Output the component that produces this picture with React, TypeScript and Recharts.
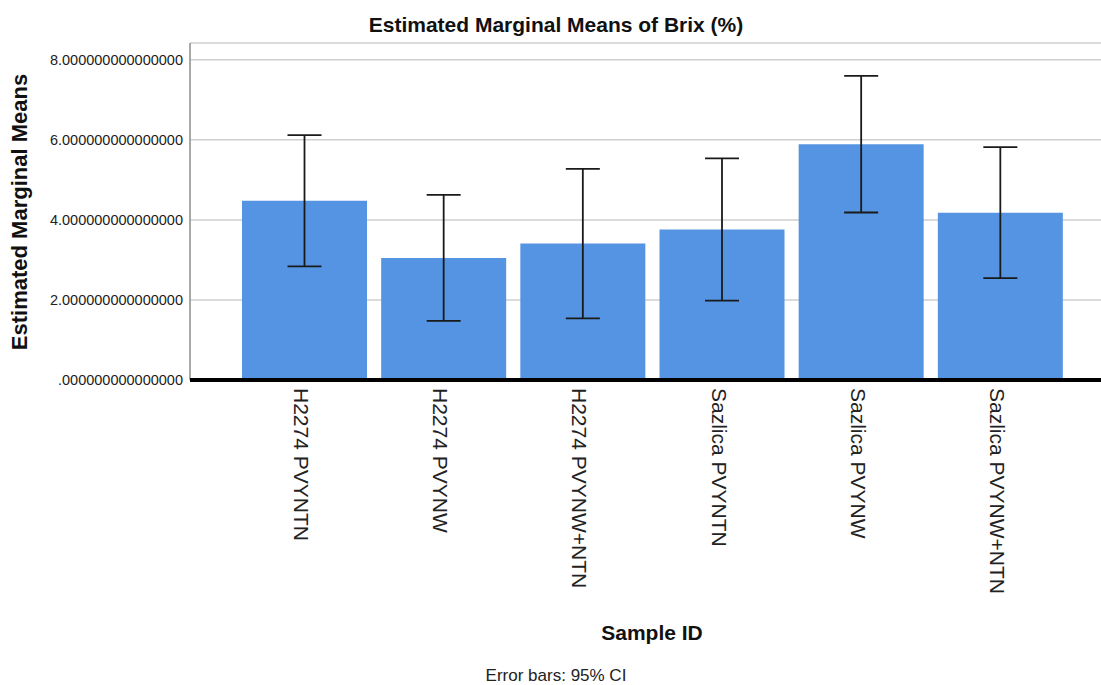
import React from 'react';
import { BarChart, Bar, XAxis, YAxis, CartesianGrid, ErrorBar } from 'recharts';

const categories = ['H2274 PVYNTN', 'H2274 PVYNW', 'H2274 PVYNW+NTN', 'Sazlica PVYNTN', 'Sazlica PVYNW', 'Sazlica PVYNW+NTN'];
const means = [4.48, 3.05, 3.41, 3.76, 5.89, 4.18];
const ciLower = [2.84, 1.475, 1.54, 1.985, 4.185, 2.545];
const ciUpper = [6.12, 4.625, 5.275, 5.535, 7.6, 5.82];
const yTicks = [0, 2, 4, 6, 8];

const data = categories.map((c, i) => ({
  name: c,
  mean: means[i],
  err: [means[i] - ciLower[i], ciUpper[i] - means[i]],
}));

const FONT = '"Liberation Sans", Arial, Helvetica, sans-serif';

const fmtY = (v: number) => (v === 0 ? '.000000000000000' : v.toFixed(15));

const XTick = (props: any) => {
  const { x, y, payload } = props;
  return (
    <text
      transform={`translate(${x - 3},${y}) rotate(90)`}
      textAnchor="start"
      dominantBaseline="central"
      fontFamily={FONT}
      fontSize={21}
      fill="#222"
    >
      {payload.value}
    </text>
  );
};

const YTick = (props: any) => {
  const { y, payload } = props;
  return (
    <text x={183} y={y} textAnchor="end" dominantBaseline="central" fontFamily={FONT} fontSize={14.5} fill="#222">
      {fmtY(payload.value)}
    </text>
  );
};

export default function App() {
  return (
    <div style={{ position: 'absolute', left: 0, top: 0, width: 1101, height: 685, background: '#fff', fontFamily: FONT, overflow: 'hidden' }}>
      <BarChart
        width={1101}
        height={685}
        data={data}
        margin={{ top: 43, right: 0, bottom: 0, left: 0 }}
        barSize={125}
      >
        <CartesianGrid horizontal vertical={false} stroke="#cfcfcf" strokeWidth={1.5} />
        <YAxis
          width={190}
          domain={[0, 8.42]}
          ticks={yTicks}
          tick={<YTick />}
          tickLine={false}
          axisLine={{ stroke: '#8c8c8c', strokeWidth: 1.5 }}
          allowDataOverflow
        />
        <XAxis
          dataKey="name"
          height={305}
          padding={{ left: 45, right: 31 }}
          tick={<XTick />}
          tickLine={false}
          interval={0}
          axisLine={{ stroke: '#000', strokeWidth: 4 }}
        />
        <Bar dataKey="mean" fill="#5594e2" isAnimationActive={false}>
          <ErrorBar dataKey="err" width={17} stroke="#1a1a1a" strokeWidth={1.8} direction="y" isAnimationActive={false} />
        </Bar>
      </BarChart>
      <div style={{ position: 'absolute', left: 0, width: 1112, top: 12, textAlign: 'center', fontWeight: 'bold', fontSize: 21, color: '#111', lineHeight: '26px' }}>
        Estimated Marginal Means of Brix (%)
      </div>
      <div
        style={{
          position: 'absolute',
          left: 20,
          top: 212,
          transform: 'translate(-50%, -50%) rotate(-90deg)',
          whiteSpace: 'nowrap',
          fontWeight: 'bold',
          fontSize: 22,
          color: '#111',
          lineHeight: '26px',
        }}
      >
        Estimated Marginal Means
      </div>
      <div style={{ position: 'absolute', left: 552, width: 200, top: 620, textAlign: 'center', fontWeight: 'bold', fontSize: 21, color: '#111', lineHeight: '26px' }}>
        Sample ID
      </div>
      <div style={{ position: 'absolute', left: 456, width: 200, top: 666, textAlign: 'center', fontSize: 17, color: '#222', lineHeight: '19px' }}>
        Error bars: 95% CI
      </div>
    </div>
  );
}
